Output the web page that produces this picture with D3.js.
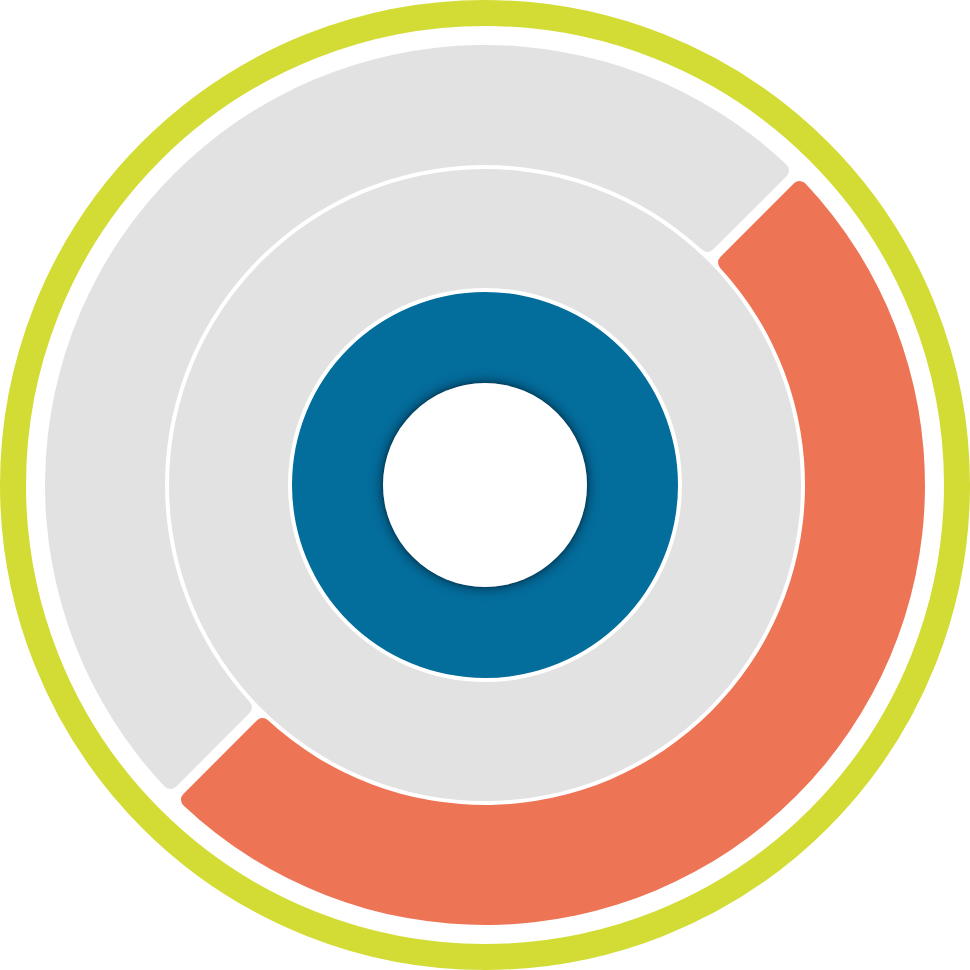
<!DOCTYPE html>
<html>
<head>
<meta charset="utf-8">
<script src="https://cdn.jsdelivr.net/npm/d3@7"></script>
<style>
  html, body { margin: 0; padding: 0; background: #fff; }
  svg { display: block; }
</style>
</head>
<body>
<div id="chart"></div>
<script>
  // ring data (percent filled), outer -> inner
  const RING_NAMES = ['outer', 'middle', 'inner'];
  const RING_VALUES = [50, 0, 100];
  const RING_COLORS = ['#ed7555', '#e2e2e2', '#036d9c'];
  const TRACK_COLOR = '#e2e2e2';
  const START_OFFSET = 45; // degrees, where the outer arc begins

  const W = 970, H = 970;
  const cx = 485, cy = 485;

  // radii [inner, outer] per ring
  const RADII = [[320, 440], [197, 316], [102, 193]];

  const svg = d3.select('#chart').append('svg')
    .attr('width', W)
    .attr('height', H);

  const defs = svg.append('defs');

  // soft inner shadow around the hole of the blue ring
  // (userSpaceOnUse -> coords of the translated group, so centre is 0,0)
  const SH_R = 120;
  const grad = defs.append('radialGradient')
    .attr('id', 'hole-shadow')
    .attr('gradientUnits', 'userSpaceOnUse')
    .attr('cx', 0).attr('cy', 0).attr('r', SH_R);
  grad.append('stop').attr('offset', 0).attr('stop-color', '#00263b').attr('stop-opacity', 0.6);
  grad.append('stop').attr('offset', 102 / SH_R).attr('stop-color', '#00263b').attr('stop-opacity', 0.6);
  grad.append('stop').attr('offset', 106 / SH_R).attr('stop-color', '#013a58').attr('stop-opacity', 0.35);
  grad.append('stop').attr('offset', 112 / SH_R).attr('stop-color', '#025079').attr('stop-opacity', 0.12);
  grad.append('stop').attr('offset', 1).attr('stop-color', '#036d9c').attr('stop-opacity', 0);

  const g = svg.append('g').attr('transform', `translate(${cx},${cy})`);

  // outer lime frame
  g.append('circle')
    .attr('r', 472)
    .attr('fill', 'none')
    .attr('stroke', '#d3dc34')
    .attr('stroke-width', 26);

  const pct = d3.scaleLinear().domain([0, 100]).range([0, 2 * Math.PI]);
  const offset = START_OFFSET * Math.PI / 180;

  RING_NAMES.forEach((name, i) => {
    const [r0, r1] = RADII[i];
    const v = RING_VALUES[i];
    const ringG = g.append('g').attr('class', 'ring-' + name);

    if (v <= 0 || v >= 100) {
      // full ring, one colour
      const arc = d3.arc().innerRadius(r0).outerRadius(r1);
      ringG.append('path')
        .attr('d', arc({ startAngle: 0, endAngle: 2 * Math.PI }))
        .attr('fill', v >= 100 ? RING_COLORS[i] : TRACK_COLOR);
      return;
    }

    const arc = d3.arc()
      .innerRadius(r0)
      .outerRadius(r1)
      .cornerRadius(8)
      .padAngle(0.019);

    const parts = [
      { startAngle: offset, endAngle: offset + pct(v), fill: RING_COLORS[i] },
      { startAngle: offset + pct(v), endAngle: offset + pct(100), fill: TRACK_COLOR }
    ];

    ringG.selectAll('path')
      .data(parts)
      .join('path')
      .attr('d', d => arc(d))
      .attr('fill', d => d.fill);
  });

  // inner shadow on blue ring
  g.append('circle')
    .attr('r', SH_R)
    .attr('fill', 'url(#hole-shadow)');

  // white hole
  g.append('circle')
    .attr('r', 102)
    .attr('fill', '#fff');
</script>
</body>
</html>
